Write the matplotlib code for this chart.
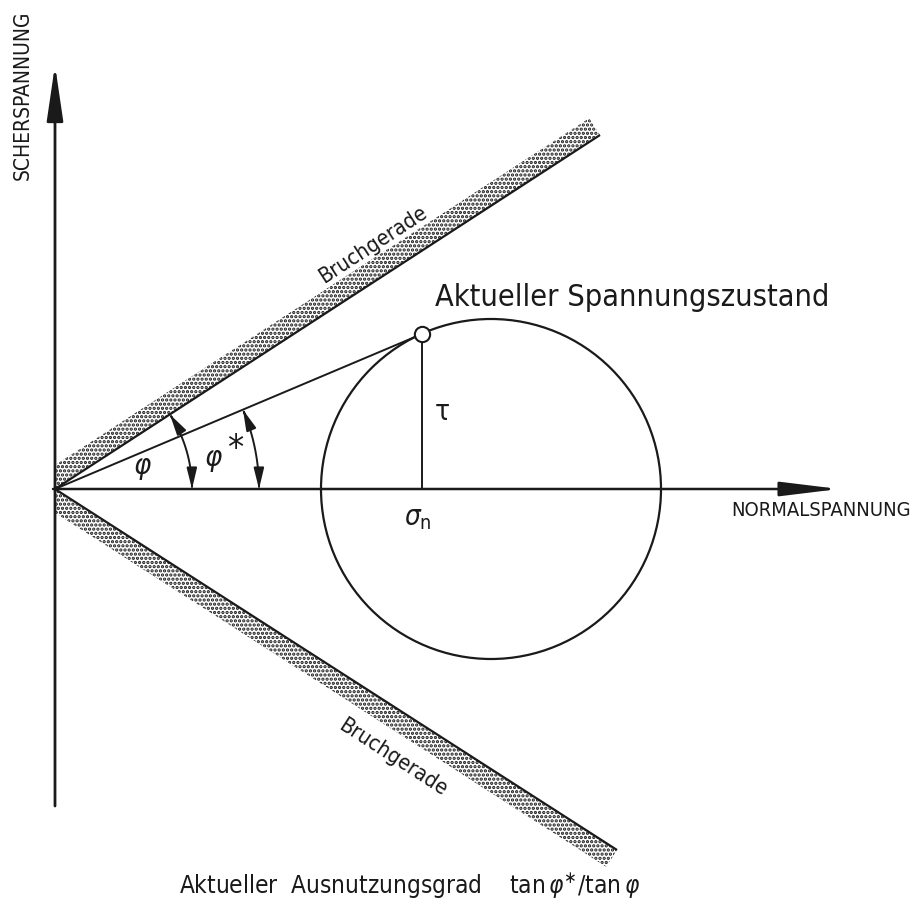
import numpy as np
import matplotlib.pyplot as plt
from matplotlib.patches import Polygon, FancyArrowPatch, Circle
from matplotlib.path import Path

# Mohr-Coulomb sketch, units = pixels, origin where the axes cross, y upwards
sigma_m = 436          # centre of the Mohr circle
radius = 170
sigma_n = 367          # current stress state
tau = 155
upper_line_end = (545, 354)    # Bruchgerade
lower_line_end = (562, -361)
band_width = 20
arc_radii = [137, 204]         # phi, phi*
y_axis_range = (-317, 424)
x_axis_range = (-2, 784)

ink = "#1a1a1a"
plt.rcParams['font.family'] = ['DejaVu Sans']
plt.rcParams['font.stretch'] = 'condensed'
plt.rcParams['hatch.color'] = ink
plt.rcParams['hatch.linewidth'] = 1.6

fig = plt.figure(figsize=(9.14, 9.02), dpi=100)
ax = fig.add_axes([0, 0, 1, 1])
ax.set_xlim(-55, 859)
ax.set_ylim(-413, 489)
ax.axis('off')


# stippled band along a failure line, side=+1 above, -1 below
def band(end, side):
    e = np.array(end, float)
    u = e / np.linalg.norm(e)
    n = np.array([-u[1], u[0]])
    if (n[1] > 0) != (side > 0):
        n = -n
    s0 = n * band_width
    p0 = s0 + u * (-s0[0] / u[0])
    ax.add_patch(Polygon([(0, 0), e, e + s0, p0], closed=True, facecolor='none',
                         edgecolor=ink, linewidth=0, hatch='....'))
    ax.plot([0, e[0]], [0, e[1]], color=ink, lw=1.6, solid_capstyle='butt')


band(upper_line_end, +1)
band(lower_line_end, -1)

# axes with arrows
ax.add_patch(FancyArrowPatch((0, y_axis_range[0]), (0, y_axis_range[1]),
                             arrowstyle='-|>,head_length=1.7,head_width=0.25',
                             mutation_scale=20, lw=2.0, color=ink,
                             shrinkA=0, shrinkB=0))
ax.add_patch(FancyArrowPatch((x_axis_range[0], 0), (x_axis_range[1], 0),
                             arrowstyle='-|>,head_length=1.8,head_width=0.22',
                             mutation_scale=20, lw=1.8, color=ink,
                             shrinkA=0, shrinkB=0))

# Mohr circle and stress point
ax.add_patch(Circle((sigma_m, 0), radius, fill=False, lw=1.6, color=ink))
ax.plot([0, sigma_n], [0, tau], color=ink, lw=1.4)
ax.plot([sigma_n, sigma_n], [0, tau], color=ink, lw=1.4)
ax.plot(sigma_n, tau, 'o', ms=11, mfc='white', mec=ink, mew=1.5, zorder=5)

# angle arcs
phi = np.degrees(np.arctan2(upper_line_end[1], upper_line_end[0]))
phi_star = np.degrees(np.arctan2(tau, sigma_n))
for r, a in zip(arc_radii, [phi, phi_star]):
    t = np.radians(np.linspace(0, a, 40))
    path = Path(np.column_stack([r * np.cos(t), r * np.sin(t)]))
    ax.add_patch(FancyArrowPatch(path=path,
                                 arrowstyle='<|-|>,head_length=0.9,head_width=0.22',
                                 mutation_scale=14, lw=1.4, color=ink))

# labels
ax.text(-32, 394, "SCHERSPANNUNG", rotation=90, ha='center', va='center',
        fontsize=15, color=ink)
ax.text(766, -21, "NORMALSPANNUNG", ha='center', va='center', fontsize=14.5, color=ink)
ax.text(318, 244, "Bruchgerade", rotation=phi, ha='center', va='center',
        rotation_mode='anchor', fontsize=15.5, color=ink)
ax.text(338, -269, "Bruchgerade", rotation=-phi, ha='center', va='center',
        rotation_mode='anchor', fontsize=15.5, color=ink)
ax.text(380, 192, "Aktueller Spannungszustand", ha='left', va='center',
        fontsize=22, color=ink)
ax.text(387, 77, "τ", ha='center', va='center', fontsize=20, color=ink)
ax.text(363, -29, r"$\sigma_\mathrm{n}$", ha='center', va='center', fontsize=20, color=ink)
ax.text(87, 21, r"$\varphi$", ha='center', va='center', fontsize=21, color=ink)
ax.text(158, 29, r"$\varphi$", ha='center', va='center', fontsize=21, color=ink)
ax.text(180, 40, "*", ha='center', va='center', fontsize=26, color=ink)
ax.text(355, -396, r"Aktueller  Ausnutzungsgrad    tan$\,\varphi^{\ast}$/tan$\,\varphi$",
        ha='center', va='center', fontsize=17.5, color=ink)

fig.savefig("out.png", dpi=100, facecolor='white')
